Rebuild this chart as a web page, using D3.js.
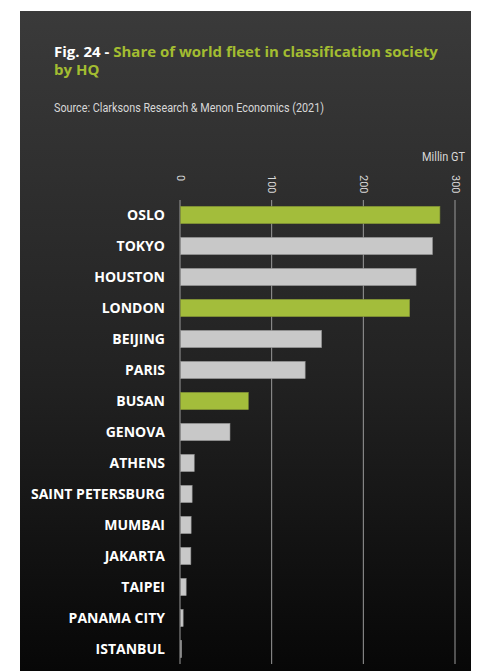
<!DOCTYPE html>
<html><head><meta charset="utf-8">
<script src="https://cdn.jsdelivr.net/npm/d3@7"></script>
<style>
html,body{margin:0;padding:0;background:#fff;}
svg{display:block;}
</style></head>
<body>
<svg id="chart" width="480" height="671"></svg>
<script>
const categories = ["OSLO","TOKYO","HOUSTON","LONDON","BEIJING","PARIS","BUSAN","GENOVA","ATHENS","SAINT PETERSBURG","MUMBAI","JAKARTA","TAIPEI","PANAMA CITY","ISTANBUL"];
const values = [283, 275, 257, 250, 154, 136, 74, 54, 15, 12.7, 11.6, 11.3, 6.2, 2.9, 1.1];
const highlighted = ["OSLO","LONDON","BUSAN"];
const tickValues = [0, 100, 200, 300];
const unitLabel = "Millin GT";
const titlePrefix = "Fig. 24 - ";
const titleLine1 = "Share of world fleet in classification society";
const titleLine2 = "by HQ";
const sourceText = "Source: Clarksons Research & Menon Economics (2021)";

const svg = d3.select("#chart");
const defs = svg.append("defs");
const grad = defs.append("linearGradient").attr("id","bg").attr("x1",0).attr("y1",0).attr("x2",0).attr("y2",1);
grad.append("stop").attr("offset","0%").attr("stop-color","#3a3a3a");
grad.append("stop").attr("offset","55%").attr("stop-color","#222222");
grad.append("stop").attr("offset","100%").attr("stop-color","#070707");

svg.append("rect").attr("x",20).attr("y",11).attr("width",451).attr("height",660).attr("fill","url(#bg)");

const condensed = "Roboto,sans-serif";
const bold = "'Open Sans','Lato',sans-serif";

// Title
const t = svg.append("text").attr("x",54).attr("y",57)
  .attr("font-family",bold).attr("font-weight",700).attr("font-size",15);
t.append("tspan").attr("fill","#ffffff").text(titlePrefix);
t.append("tspan").attr("fill","#a3bd31").text(titleLine1);
svg.append("text").attr("x",54).attr("y",75)
  .attr("font-family",bold).attr("font-weight",700).attr("font-size",15)
  .attr("fill","#a3bd31").text(titleLine2);

svg.append("text").attr("x",54).attr("y",112)
  .attr("font-family",condensed).attr("font-size",12.5).attr("fill","#d8d8d8")
  .attr("textLength",270).attr("lengthAdjust","spacingAndGlyphs").text(sourceText);

svg.append("text").attr("x",422).attr("y",161)
  .attr("font-family",condensed).attr("font-size",12.5).attr("fill","#d8d8d8")
  .attr("textLength",43).attr("lengthAdjust","spacingAndGlyphs").text(unitLabel);

const x = d3.scaleLinear().domain([0,300]).range([180,455]);
const y = d3.scaleBand().domain(categories).range([199.5, 664.5]).paddingInner(0.44).paddingOuter(0.22);

// gridlines
svg.append("g").selectAll("line").data(tickValues).join("line")
  .attr("x1",d=>x(d)).attr("x2",d=>x(d)).attr("y1",200).attr("y2",664)
  .attr("stroke","#9a9a9a").attr("stroke-width",1);

// tick labels rotated
svg.append("g").selectAll("text").data(tickValues).join("text")
  .attr("transform",d=>`translate(${x(d)-3.5},175) rotate(90)`)
  .attr("font-family",condensed).attr("font-size",11).attr("fill","#d8d8d8")
  .attr("text-anchor","start").text(d=>d);

// bars
svg.append("g").selectAll("rect").data(categories).join("rect")
  .attr("x",x(0)+0.5).attr("y",d=>y(d))
  .attr("width",(d,i)=>Math.max(0.5, x(values[i])-x(0)))
  .attr("height",y.bandwidth())
  .attr("fill",d=>highlighted.includes(d)?"#a3bd3b":"#c8c8c8")
  .attr("stroke",d=>highlighted.includes(d)?"#7f8f35":"#8a8a8a").attr("stroke-width",0.6);

// category labels
svg.append("g").selectAll("text").data(categories).join("text")
  .attr("x",165).attr("y",d=>y(d)+y.bandwidth()/2).attr("dy","0.36em")
  .attr("text-anchor","end").attr("font-family",bold).attr("font-weight",700)
  .attr("font-size",14).attr("fill","#ffffff").text(d=>d);
</script>
</body></html>
